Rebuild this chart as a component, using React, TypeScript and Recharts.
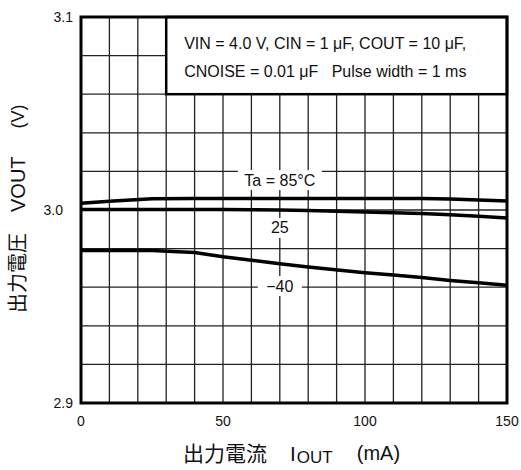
import React from "react";
import { CartesianGrid, Line, LineChart, ReferenceArea, ReferenceDot, XAxis, YAxis } from "recharts";

// output current (mA)
const currents = [0, 10, 25, 40, 50, 60, 70, 80, 100, 110, 120, 130, 140, 150];
// output voltage (V) per temperature
const vout85 = [3.0035, 3.0045, 3.0058, 3.0059, 3.006, 3.006, 3.006, 3.006, 3.006, 3.006, 3.006, 3.0057, 3.0052, 3.0046];
const vout25 = [3.0003, 3.0003, 3.0003, 3.0002, 3.0002, 3.0001, 3.0, 2.9997, 2.999, 2.9986, 2.9982, 2.9975, 2.9967, 2.9958];
const voutM40 = [2.979, 2.979, 2.979, 2.978, 2.9758, 2.974, 2.9722, 2.9705, 2.9675, 2.9663, 2.965, 2.9635, 2.9623, 2.961];

const xTicks = [0, 10, 20, 30, 40, 50, 60, 70, 80, 90, 100, 110, 120, 130, 140, 150];
const xLabels = [0, 50, 100, 150];
const yTicks = [2.9, 2.92, 2.94, 2.96, 2.98, 3.0, 3.02, 3.04, 3.06, 3.08, 3.1];
const yLabels = ["2.9", "3.0", "3.1"];

const curveLabels = [
  { text: "Ta = 85°C", x: 70, y: 3.0155, w: 84 },
  { text: "25", x: 70, y: 2.9907, w: 26 },
  { text: "\u221240", x: 70, y: 2.9606, w: 44 }
];

const conditions = ["VIN = 4.0 V, CIN = 1 \u03bcF, COUT = 10 \u03bcF,", "CNOISE = 0.01 \u03bcF   Pulse width = 1 ms"];

const data = currents.map((c, i) => ({ current: c, t85: vout85[i], t25: vout25[i], tm40: voutM40[i] }));

const font = "'Liberation Sans', Arial, 'Noto Sans CJK JP', sans-serif";

function XTick({ x, y, payload }: any) {
  if (!xLabels.includes(payload.value)) return null;
  return (
    <text x={x} y={y + 10} textAnchor="middle" dominantBaseline="central" fontSize={14} fill="#111" fontFamily={font}>
      {payload.value}
    </text>
  );
}

function YTick({ x, y, payload }: any) {
  const label = payload.value.toFixed(1);
  if (Math.abs(payload.value * 10 - Math.round(payload.value * 10)) > 1e-6 || !yLabels.includes(label)) return null;
  const dx = label === "3.0" ? -10 : 0;
  return (
    <text x={x + dx} y={y} textAnchor="end" dominantBaseline="central" fontSize={14} fill="#111" fontFamily={font}>
      {label}
    </text>
  );
}

export default function App() {
  return (
    <div style={{ position: "fixed", left: 0, top: 0, width: 521, height: 470, background: "#fff" }}>
      <LineChart width={521} height={470} data={data} margin={{ top: 17, right: 14, left: 41, bottom: 37 }}>
        <CartesianGrid stroke="#222" strokeWidth={1.3} />
        <XAxis
          dataKey="current"
          type="number"
          domain={[0, 150]}
          ticks={xTicks}
          interval={0}
          tickLine={false}
          axisLine={false}
          height={30}
          tick={<XTick />}
        />
        <YAxis
          type="number"
          domain={[2.9, 3.1]}
          ticks={yTicks}
          interval={0}
          tickLine={false}
          axisLine={false}
          width={40}
          tick={<YTick />}
        />
        <Line dataKey="t85" type="linear" stroke="#000" strokeWidth={3.5} dot={false} isAnimationActive={false} />
        <Line dataKey="t25" type="linear" stroke="#000" strokeWidth={3.5} dot={false} isAnimationActive={false} />
        <Line dataKey="tm40" type="linear" stroke="#000" strokeWidth={3.5} dot={false} isAnimationActive={false} />
        <ReferenceArea
          x1={30}
          x2={150}
          y1={3.06}
          y2={3.1}
          shape={(p: any) => (
            <g>
              <rect x={p.x} y={p.y} width={p.width} height={p.height} fill="#fff" stroke="#000" strokeWidth={2.5} />
              {conditions.map((line, i) => (
                <text key={i} x={p.x + 18} y={p.y + 26 + i * 28} dominantBaseline="central" fontSize={16} fill="#111" fontFamily={font} style={{ whiteSpace: "pre" }}>
                  {line}
                </text>
              ))}
            </g>
          )}
        />
        {curveLabels.map((c) => (
          <ReferenceDot
            key={c.text}
            x={c.x}
            y={c.y}
            r={0}
            shape={(p: any) => (
              <g>
                <rect x={p.cx - c.w / 2} y={p.cy - 10} width={c.w} height={20} fill="#fff" />
                <text x={p.cx} y={p.cy} textAnchor="middle" dominantBaseline="central" fontSize={16} fill="#111" fontFamily={font}>
                  {c.text}
                </text>
              </g>
            )}
          />
        ))}
        <ReferenceArea x1={0} x2={150} y1={2.9} y2={3.1} fill="none" stroke="#000" strokeWidth={3} />
        <text x={183} y={453} textAnchor="start" dominantBaseline="central" fontSize={21} fill="#111" fontFamily={font} style={{ whiteSpace: "pre" }}>
          <tspan>出力電流</tspan>
          <tspan dx={23}>I</tspan>
          <tspan dx={1} dy={4} fontSize={17}>OUT</tspan>
          <tspan dx={24} dy={-4} fontSize={20}>(mA)</tspan>
        </text>
        <text
          transform="translate(18 313) rotate(-90)"
          x={0}
          y={0}
          textAnchor="start"
          dominantBaseline="central"
          fontSize={20}
          fill="#111"
          fontFamily={font}
        >
          <tspan>出力電圧</tspan>
          <tspan dx={21}>VOUT</tspan>
          <tspan dx={28} fontSize={18}>(V)</tspan>
        </text>
      </LineChart>
    </div>
  );
}
